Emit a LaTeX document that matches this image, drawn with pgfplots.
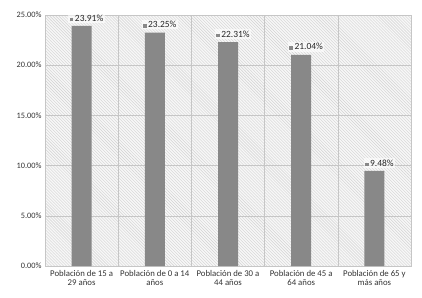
\documentclass[border=0pt]{standalone}
\usepackage{pgfplots}
\pgfplotsset{compat=1.18}
\usepackage{fontspec}
\setmainfont{Carlito}
\usetikzlibrary{patterns}
\definecolor{barcol}{RGB}{136,136,136}
\newcommand{\twol}[2]{\begin{tabular}{@{}c@{}}#1\\[-1.5pt]#2\end{tabular}}
\begin{document}
\begin{tikzpicture}
\begin{axis}[
  name=ax,
  scale only axis,
  width=366bp, height=251bp,
  ymin=0, ymax=25,
  xmin=-0.5, xmax=4.5,
  ytick={0,5,10,15,20,25},
  yticklabel={\pgfmathprintnumber[fixed,fixed zerofill,precision=2]{\tick}\%},
  /pgf/number format/assume math mode=true,
  xtick={0,1,2,3,4},
  xticklabels={{\twol{Población de 15 a}{29 años}}, {\twol{Población de 0 a 14}{años}}, {\twol{Población de 30 a}{44 años}}, {\twol{Población de 45 a}{64 años}}, {\twol{Población de 65 y}{más años}}},
  xticklabel style={font=\fontsize{8.8}{10}\selectfont, text=black!80, yshift=-2.5bp, inner sep=1pt},
  yticklabel style={font=\fontsize{8.3}{9}\selectfont, text=black!80},
  minor xtick={0.5,1.5,2.5,3.5},
  xminorgrids, ymajorgrids,
  grid style={gray!45, line width=0.6pt},
  minor grid style={gray!45, line width=0.6pt},
  axis line style={gray!45},
  major tick length=0pt, minor tick length=0pt,
  axis background/.style={fill=gray!6, postaction={pattern=north west lines, pattern color=gray!35}},
  ybar, bar width=20bp,
  nodes near coords={{\color{barcol}\rule{3.5pt}{3.5pt}}\,\pgfmathprintnumber[fixed,fixed zerofill,precision=2]{\pgfplotspointmeta}\%},
  nodes near coords style={font=\fontsize{9.5}{10}\selectfont, text=black!85, fill=white, fill opacity=0.6, text opacity=1, inner sep=1.5pt, xshift=5bp, yshift=3bp},
  clip=false,
]
\addplot[fill=barcol, draw=none] coordinates {(0,23.91) (1,23.25) (2,22.31) (3,21.04) (4,9.48)};
\end{axis}
\pgfresetboundingbox
\path[use as bounding box] ([shift={(-45bp,-32bp)}]ax.south west) rectangle ([shift={(11bp,15bp)}]ax.north east);
\end{tikzpicture}
\end{document}
